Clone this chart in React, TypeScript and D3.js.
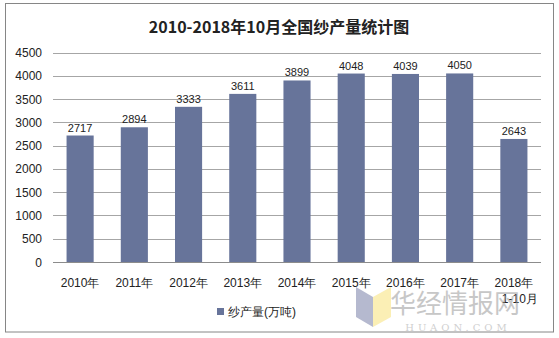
import React from "react";
import * as d3 from "d3";

const categories = ["2010年", "2011年", "2012年", "2013年", "2014年", "2015年", "2016年", "2017年", "2018年\n1-10月"];
const values = [2717, 2894, 3333, 3611, 3899, 4048, 4039, 4050, 2643];
const yTicks = [0, 500, 1000, 1500, 2000, 2500, 3000, 3500, 4000, 4500];
const title = "2010-2018年10月全国纱产量统计图";
const seriesName = "纱产量(万吨)";

export default function App() {
  const W = 559, H = 338;
  const left = 53, right = 541, top = 52.5, bottom = 262;
  const x = d3.scaleBand<string>().domain(categories).range([left, right]).paddingInner(0.5).paddingOuter(0.25);
  const y = d3.scaleLinear().domain([0, 4500]).range([bottom, top]);
  const font = "'Liberation Sans', Arial, sans-serif";
  return (
    <svg width={W} height={H} style={{ position: "absolute", left: 0, top: 0 }} fontFamily={font}>
      <rect x={0} y={0} width={W} height={H} fill="#fff" />
      <rect x={5.5} y={3.5} width={548} height={328.5} fill="none" stroke="#868686" strokeWidth={1} />
      <text x={279} y={33} textAnchor="middle" fontSize={16} fontWeight="bold" fill="#222" fontFamily="'Noto Sans CJK SC', sans-serif">{title}</text>
      {yTicks.map(t => (
        <g key={t}>
          <line x1={left} x2={right} y1={Math.round(y(t)) + 0.5} y2={Math.round(y(t)) + 0.5} stroke={t === 0 ? "#8c8c8c" : "#a6a6a6"} strokeWidth={1} />
          <text x={42} y={y(t) + 4.5} textAnchor="end" fontSize={12} fill="#222">{t}</text>
        </g>
      ))}
      {categories.map((c, i) => {
        const bx = x(c)!;
        const bw = x.bandwidth();
        const lines = c.split("\n");
        return (
          <g key={c}>
            <rect x={bx} y={y(values[i])} width={bw} height={bottom - y(values[i])} fill="#67749A" />
            <text x={bx + bw / 2} y={y(values[i]) - 4} textAnchor="middle" fontSize={11} fill="#222">{values[i]}</text>
            {lines.map((l, j) => (
              <text key={j} x={bx + bw / 2 + (j === 1 ? 6 : 0)} y={287 + j * 16} textAnchor="middle" fontSize={12} fill="#222">{l}</text>
            ))}
          </g>
        );
      })}
      <rect x={217} y={308} width={7} height={7} fill="#67749A" />
      <text x={228} y={316} fontSize={12} fill="#222">{seriesName}</text>
      {/* watermark */}
      <g opacity={0.55}>
        <polygon points="356,287 373,297 373,327 356,317" fill="#7a80a8" />
        <polygon points="373,297 391,287 391,317 373,327" fill="#f8e27a" />
        <text x={455} y={313} textAnchor="middle" fontSize={26} fill="#9a9a9a" fontFamily="'Noto Sans CJK SC', sans-serif">华经情报网</text>
        <text x={458} y={331} textAnchor="middle" fontSize={10} letterSpacing={4} fill="#aaa" fontFamily="'DejaVu Serif', serif">HUAON.COM</text>
      </g>
    </svg>
  );
}
